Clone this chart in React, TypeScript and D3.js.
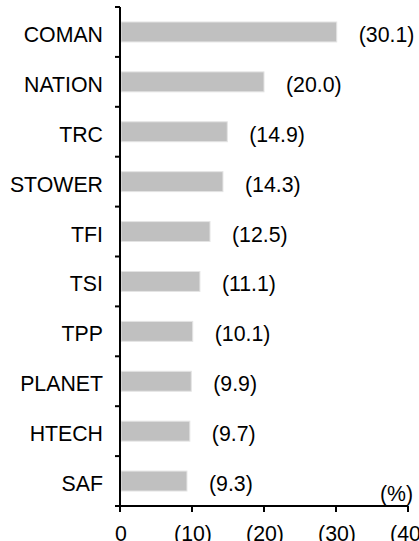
import React from "react";
import * as d3 from "d3";

const companies = ["COMAN", "NATION", "TRC", "STOWER", "TFI", "TSI", "TPP", "PLANET", "HTECH", "SAF"];
const values = [30.1, 20.0, 14.9, 14.3, 12.5, 11.1, 10.1, 9.9, 9.7, 9.3];
const valueLabels = ["(30.1)", "(20.0)", "(14.9)", "(14.3)", "(12.5)", "(11.1)", "(10.1)", "(9.9)", "(9.7)", "(9.3)"];
const xTicks = [0, 10, 20, 30, 40];
const xTickLabels = ["0", "(10)", "(20)", "(30)", "(40)"];

const W = 419;
const H = 541;
const font = "'Liberation Sans', Arial, sans-serif";
const fs = 21.3;

export default function App() {
  const x = d3.scaleLinear().domain([0, 40]).range([120, 408]);
  const y = d3.scaleBand<string>().domain(companies).range([7, 506]).paddingInner(0.6).paddingOuter(0.3);
  const bandStep = y.step();
  const boundaries = d3.range(companies.length + 1).map((i) => 7 + i * bandStep);

  return (
    <svg width={W} height={H} style={{ position: "absolute", left: 0, top: 0, background: "#fff" }}>
      {companies.map((c, i) => {
        const cy = y(c)! + y.bandwidth() / 2;
        return (
          <g key={c}>
            <rect
              x={x(0) + 1}
              y={y(c)!}
              width={x(values[i]) - x(0) - 1}
              height={y.bandwidth()}
              fill="#c0c0c0"
              stroke="#e4e4e4"
              strokeWidth={1}
            />
            <text x={103} y={cy + 10} textAnchor="end" fontFamily={font} fontSize={fs} fill="#000">
              {c}
            </text>
            <text x={x(values[i]) + 22} y={cy + 10} fontFamily={font} fontSize={fs} fill="#000">
              {valueLabels[i]}
            </text>
          </g>
        );
      })}
      {/* y axis */}
      <line x1={x(0)} x2={x(0)} y1={boundaries[0]} y2={506} stroke="#000" strokeWidth={2} />
      {boundaries.map((b, i) => (
        <line key={i} x1={x(0) - 5} x2={x(0)} y1={b} y2={b} stroke="#000" strokeWidth={2} />
      ))}
      {/* x axis */}
      <line x1={x(0) - 5} x2={x(40)} y1={506} y2={506} stroke="#000" strokeWidth={2} />
      {xTicks.map((t, i) => (
        <g key={t}>
          <line x1={x(t)} x2={x(t)} y1={506} y2={512} stroke="#000" strokeWidth={2} />
          <text x={x(t) + 1} y={541} textAnchor="middle" fontFamily={font} fontSize={fs} fill="#000">
            {xTickLabels[i]}
          </text>
        </g>
      ))}
      <text x={413} y={501} textAnchor="end" fontFamily={font} fontSize={fs} fill="#000">
        (%)
      </text>
    </svg>
  );
}
